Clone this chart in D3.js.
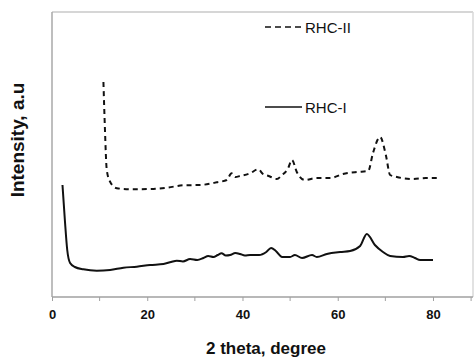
<!DOCTYPE html>
<html>
<head>
<meta charset="utf-8">
<script src="https://cdn.jsdelivr.net/npm/d3@7"></script>
<style>
  html, body { margin: 0; padding: 0; background: #fff; }
  svg { display: block; font-family: "Liberation Sans", Arial, sans-serif; }
</style>
</head>
<body>
<svg id="chart" width="475" height="360"></svg>
<script>
// ---- data ----
const rhc1Theta = [2.2, 2.7, 3.2, 3.8, 4.8, 6.6, 9.4, 12.2, 15, 17.8, 20.6, 23.4, 25.0, 26.2, 27.5, 29, 30.5, 31.8, 32.8, 33.9, 34.8, 35.6, 36.5, 37.4, 38.5, 39.5, 40.5, 41.6, 43.5, 45.0, 46.0, 47.0, 48.3, 50.0, 51.0, 52.5, 54.6, 55.6, 57.7, 60.5, 62.6, 64.7, 66.1, 67.8, 69.5, 71.0, 73.7, 75.0, 76.2, 77.3, 80.0];
const rhc1Intensity = [112, 77, 47, 34, 30, 27.7, 26.3, 27, 29.3, 30.3, 32, 33, 35, 36.3, 35.5, 38, 37, 39, 41, 40, 42, 43.7, 41.5, 42, 44, 43, 41.5, 42, 42, 45, 49, 46, 40, 40, 42, 39, 42, 40, 43, 45, 46, 51, 63, 52, 45, 41, 40, 41, 39, 37, 37];

const rhc2Theta = [10.8, 11.1, 11.5, 12.2, 13.6, 17.1, 20.6, 24.1, 27.6, 31.1, 34.6, 36.7, 37.7, 38.5, 39.5, 41.6, 43.3, 44.3, 45.5, 47.2, 48.3, 49.5, 50.4, 51.4, 53.1, 55.6, 58.4, 61.1, 64.0, 66.4, 67.4, 68.9, 70.1, 71.0, 72.4, 75.8, 78.5, 81.5];
const rhc2Intensity = [215, 170, 127, 115.3, 108.7, 107.7, 108, 109.3, 111.7, 112, 114.7, 117, 123.7, 120, 121, 123.7, 127.7, 123, 121, 118, 122, 128, 137, 125, 117, 119, 119, 123, 125, 126, 144, 160, 142, 122, 120, 118, 119, 119];

const xTicks = [0, 20, 40, 60, 80];
const xMinorTicks = [10, 30, 50, 70, 88];
const seriesNames = ["RHC-II", "RHC-I"];

// ---- layout ----
const svg = d3.select("#chart");
const mLeft = 52, mRight = 473, mTop = 12, mBottom = 297;

const x = d3.scaleLinear().domain([0, 88.4]).range([mLeft, mRight]);
const y = d3.scaleLinear().domain([0, 285]).range([mBottom, mTop]);

// frame
svg.append("line").attr("x1", mLeft).attr("x2", mRight).attr("y1", mTop).attr("y2", mTop)
  .attr("stroke", "#c8c8c8").attr("stroke-width", 1.5);
svg.append("line").attr("x1", mRight).attr("x2", mRight).attr("y1", mTop).attr("y2", mBottom)
  .attr("stroke", "#d8d8d8").attr("stroke-width", 1.5);
svg.append("line").attr("x1", mLeft).attr("x2", mLeft).attr("y1", mTop).attr("y2", mBottom)
  .attr("stroke", "#a8a8a8").attr("stroke-width", 1.5);

// x axis
const xAxis = d3.axisBottom(x).tickValues(xTicks).tickSize(4).tickPadding(9)
  .tickFormat(d3.format("d"));
const gx = svg.append("g").attr("transform", `translate(0,${mBottom})`).call(xAxis);
gx.select(".domain").attr("stroke", "#a0a0a0").attr("stroke-width", 1.5)
  .attr("d", `M${mLeft},0H${mRight}`);
gx.selectAll(".tick line").attr("stroke", "#a0a0a0").attr("stroke-width", 1);
gx.selectAll(".tick text").attr("fill", "#111").attr("font-weight", "bold")
  .attr("font-size", 13).attr("font-family", "'Liberation Sans', Arial, sans-serif");
const minor = svg.append("g").attr("transform", `translate(0,${mBottom})`);
minor.selectAll("line").data(xMinorTicks).enter().append("line")
  .attr("x1", d => x(d)).attr("x2", d => x(d)).attr("y1", 0).attr("y2", 4)
  .attr("stroke", "#a0a0a0").attr("stroke-width", 1);

// titles
svg.append("text").attr("x", 266).attr("y", 354).attr("text-anchor", "middle")
  .attr("font-weight", "bold").attr("font-size", 17).attr("fill", "#111")
  .text("2 theta, degree");
svg.append("text").attr("transform", "translate(24,140) rotate(-90)")
  .attr("text-anchor", "middle").attr("font-weight", "bold").attr("font-size", 19)
  .attr("fill", "#111").text("Intensity, a.u");

// lines
const line = d3.line().x(d => x(d[0])).y(d => y(d[1])).curve(d3.curveMonotoneX);
const s1 = rhc1Theta.map((t, i) => [t, rhc1Intensity[i]]);
const s2 = rhc2Theta.map((t, i) => [t, rhc2Intensity[i]]);

svg.append("path").datum(s1).attr("d", line).attr("fill", "none")
  .attr("stroke", "#111").attr("stroke-width", 2).attr("stroke-linejoin", "round");
svg.append("path").datum(s2).attr("d", line).attr("fill", "none")
  .attr("stroke", "#111").attr("stroke-width", 2).attr("stroke-dasharray", "5,4");

// legend
const legend = [
  { name: seriesNames[0], y: 27, dash: "6,4" },
  { name: seriesNames[1], y: 107, dash: null }
];
legend.forEach(l => {
  svg.append("line").attr("x1", 265).attr("x2", 302).attr("y1", l.y).attr("y2", l.y)
    .attr("stroke", "#111").attr("stroke-width", 1.6)
    .attr("stroke-dasharray", l.dash);
  svg.append("text").attr("x", 305).attr("y", l.y + 5.5).attr("font-size", 15)
    .attr("fill", "#111").text(l.name);
});
</script>
</body>
</html>
